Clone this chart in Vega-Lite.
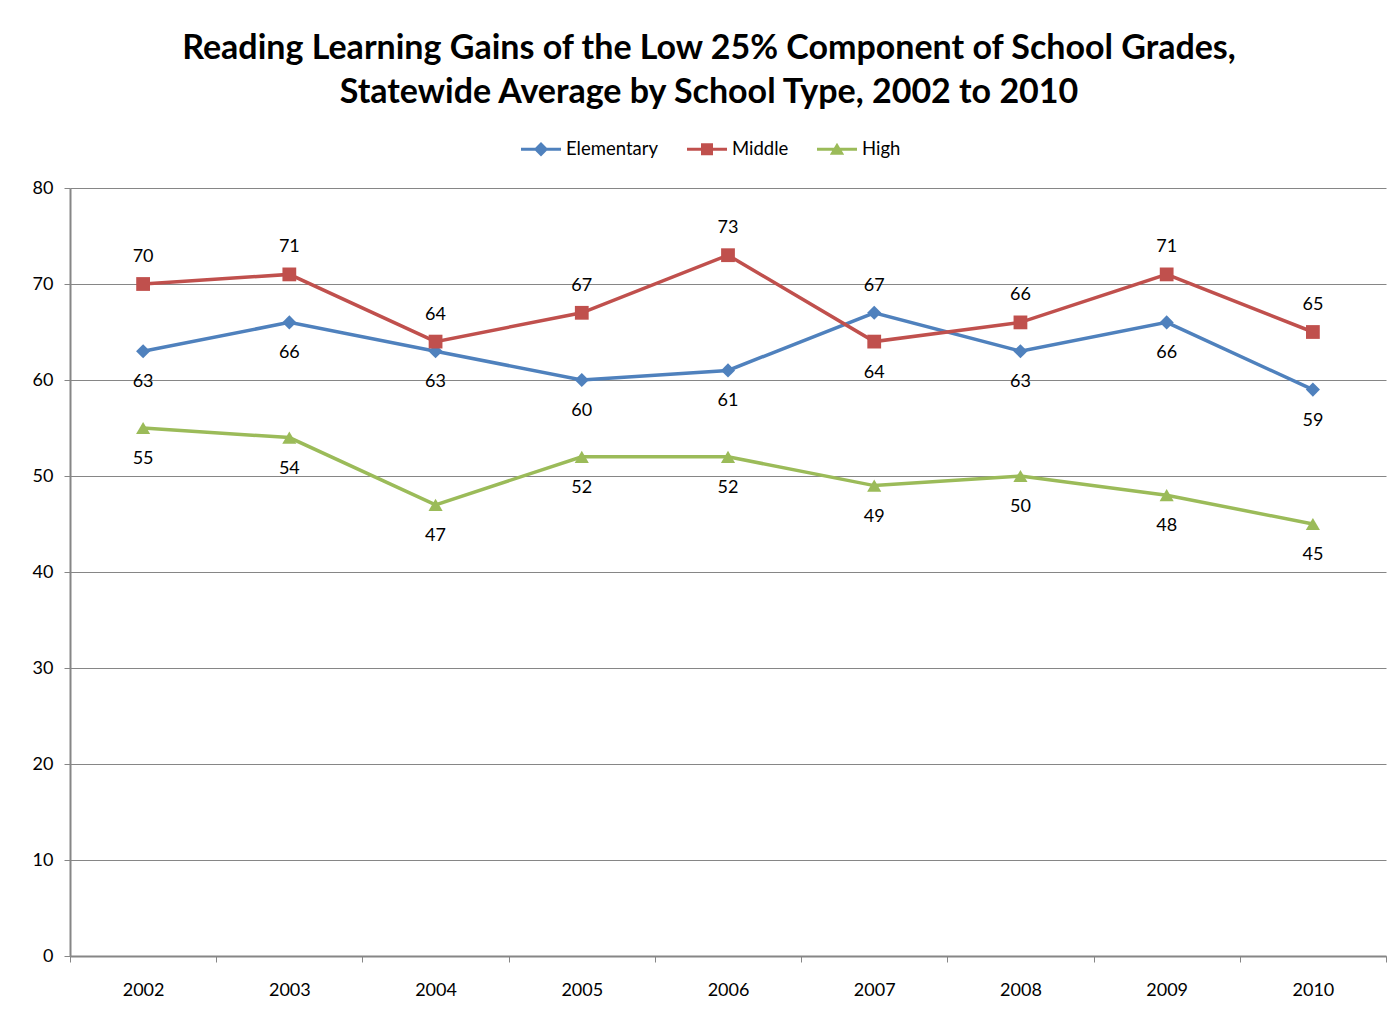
{
  "$schema": "https://vega.github.io/schema/vega-lite/v6.json",
  "width": 1316,
  "height": 768,
  "autosize": {"type": "none"},
  "padding": {"left": 70, "top": 188, "right": 9, "bottom": 62},
  "background": "white",
  "title": {
    "text": ["Reading Learning Gains of the Low 25% Component of School Grades,", "Statewide Average by School Type, 2002 to 2010"],
    "font": "Lato",
    "fontSize": 34,
    "fontWeight": "bold",
    "color": "black",
    "lineHeight": 44,
    "anchor": "middle",
    "frame": "group",
    "dx": -19,
    "offset": 19
  },
  "config": {
    "view": {"stroke": null},
    "font": "Lato"
  },
  "data": {
    "values": [
      {"year": "2002", "type": "Elementary", "value": 63},
      {"year": "2003", "type": "Elementary", "value": 66},
      {"year": "2004", "type": "Elementary", "value": 63},
      {"year": "2005", "type": "Elementary", "value": 60},
      {"year": "2006", "type": "Elementary", "value": 61},
      {"year": "2007", "type": "Elementary", "value": 67},
      {"year": "2008", "type": "Elementary", "value": 63},
      {"year": "2009", "type": "Elementary", "value": 66},
      {"year": "2010", "type": "Elementary", "value": 59},
      {"year": "2002", "type": "Middle", "value": 70},
      {"year": "2003", "type": "Middle", "value": 71},
      {"year": "2004", "type": "Middle", "value": 64},
      {"year": "2005", "type": "Middle", "value": 67},
      {"year": "2006", "type": "Middle", "value": 73},
      {"year": "2007", "type": "Middle", "value": 64},
      {"year": "2008", "type": "Middle", "value": 66},
      {"year": "2009", "type": "Middle", "value": 71},
      {"year": "2010", "type": "Middle", "value": 65},
      {"year": "2002", "type": "High", "value": 55},
      {"year": "2003", "type": "High", "value": 54},
      {"year": "2004", "type": "High", "value": 47},
      {"year": "2005", "type": "High", "value": 52},
      {"year": "2006", "type": "High", "value": 52},
      {"year": "2007", "type": "High", "value": 49},
      {"year": "2008", "type": "High", "value": 50},
      {"year": "2009", "type": "High", "value": 48},
      {"year": "2010", "type": "High", "value": 45}
    ]
  },
  "encoding": {
    "x": {
      "field": "year",
      "type": "ordinal",
      "bandPosition": 0.5,
      "scale": {"type": "band", "paddingInner": 0, "paddingOuter": 0},
      "axis": {
        "title": null,
        "labelAngle": 0,
        "labelFont": "Lato",
        "labelFontSize": 18,
        "labelColor": "black",
        "labelPadding": 19,
        "tickBand": "extent",
        "tickSize": 6,
        "tickColor": "#868686",
        "domainColor": "#868686",
        "domainWidth": 2,
        "grid": false
      }
    },
    "y": {
      "field": "value",
      "type": "quantitative",
      "scale": {"domain": [0, 80], "nice": false},
      "axis": {
        "title": null,
        "values": [0, 10, 20, 30, 40, 50, 60, 70, 80],
        "labelFont": "Lato",
        "labelFontSize": 18,
        "labelColor": "black",
        "labelPadding": 11,
        "tickSize": 6,
        "tickColor": "#868686",
        "domainColor": "#868686",
        "domainWidth": 2,
        "grid": true,
        "gridColor": "#868686",
        "gridWidth": 1
      }
    },
    "color": {
      "field": "type",
      "type": "nominal",
      "scale": {"domain": ["Elementary", "Middle", "High"], "range": ["#4F81BD", "#C0504D", "#9BBB59"]},
      "legend": {
        "title": null,
        "orient": "none",
        "direction": "horizontal",
        "legendX": 451,
        "legendY": -59,
        "labelFont": "Lato",
        "labelFontSize": 18.5,
        "labelColor": "black",
        "labelOffset": 5,
        "columnPadding": 28,
        "symbolSize": 1600,
        "symbolType": "M-1,-0.08H1V0.08H-1Z",
        "encode": {
          "symbols": {
            "update": {
              "shape": {"signal": "datum.value == 'Elementary' ? 'M-1,-0.08H1V0.08H-1Z M0,-0.36L0.36,0L0,0.36L-0.36,0Z' : datum.value == 'Middle' ? 'M-1,-0.08H1V0.08H-1Z M-0.3,-0.3H0.3V0.3H-0.3Z' : 'M-1,-0.08H1V0.08H-1Z M0,-0.32L0.36,0.28H-0.36Z'"},
              "fill": {"signal": "datum.value == 'Elementary' ? '#4F81BD' : datum.value == 'Middle' ? '#C0504D' : '#9BBB59'"},
              "strokeWidth": {"value": 0},
              "opacity": {"value": 1}
            }
          }
        }
      }
    }
  },
  "layer": [
    {
      "mark": {"type": "line", "strokeWidth": 3.5}
    },
    {
      "transform": [{"filter": "datum.type == 'Elementary'"}],
      "mark": {"type": "point", "shape": "diamond", "filled": true, "opacity": 1, "size": 200}
    },
    {
      "transform": [{"filter": "datum.type == 'Middle'"}],
      "mark": {"type": "point", "shape": "square", "filled": true, "opacity": 1, "size": 190}
    },
    {
      "transform": [{"filter": "datum.type == 'High'"}],
      "mark": {"type": "point", "shape": "triangle-up", "filled": true, "opacity": 1, "size": 200}
    },
    {
      "transform": [
        {"filter": "(datum.type == 'Middle' && datum.year != '2007') || (datum.type == 'Elementary' && datum.year == '2007')"}
      ],
      "mark": {"type": "text", "font": "Lato", "fontSize": 18, "color": "black", "baseline": "middle", "dy": -27},
      "encoding": {
        "text": {"field": "value", "type": "quantitative"},
        "color": {"value": "black"}
      }
    },
    {
      "transform": [
        {"filter": "!((datum.type == 'Middle' && datum.year != '2007') || (datum.type == 'Elementary' && datum.year == '2007'))"}
      ],
      "mark": {"type": "text", "font": "Lato", "fontSize": 18, "color": "black", "baseline": "middle", "dy": 31},
      "encoding": {
        "text": {"field": "value", "type": "quantitative"},
        "color": {"value": "black"}
      }
    }
  ]
}
